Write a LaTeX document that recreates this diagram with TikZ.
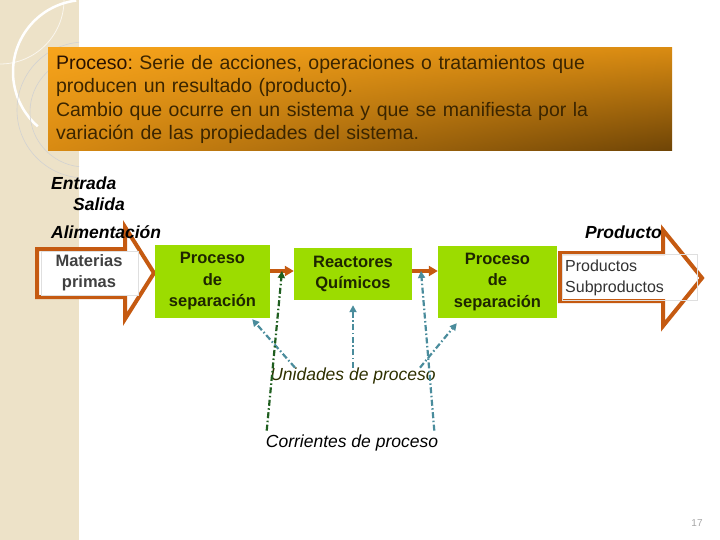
\documentclass[tikz,border=0pt]{standalone}
\usepackage{fontspec}
\setmainfont{Liberation Sans}
\usetikzlibrary{arrows.meta,shadings}
\definecolor{stripbg}{HTML}{EDE2C8}
\definecolor{flowor}{HTML}{C55A11}
\definecolor{limebox}{HTML}{9CDC00}
\definecolor{boxtext}{HTML}{1E2600}
\definecolor{deftext}{HTML}{3B2500}
\definecolor{defdark}{HTML}{2A1200}
\definecolor{unitcol}{HTML}{4A8C9C}
\definecolor{streamcol}{HTML}{1F5E1F}
\definecolor{olivetxt}{HTML}{2E3000}
\definecolor{defUL}{HTML}{F7A41B}
\definecolor{defUR}{HTML}{D98B12}
\definecolor{defLL}{HTML}{D88A12}
\definecolor{defLR}{HTML}{6E4406}

\begin{document}
\begin{tikzpicture}[x=1pt,y=-1pt,
  stepbox/.style={fill=limebox,align=center,inner sep=0pt,text=boxtext,font=\fontsize{16.5}{21.5}\selectfont\bfseries},
  flow/.style={draw=flowor,line width=4pt,-{Triangle[length=9pt,width=10pt]}},
  bigarrow/.style={draw=flowor,line width=4pt,fill=white,line join=miter},
  tag/.style={inner sep=0pt,font=\fontsize{17.5}{21}\selectfont\bfseries\itshape},
  link/.style={line width=2.2pt,dash pattern=on 6pt off 2.5pt on 1.5pt off 2.5pt,-{Triangle[length=7pt,width=7pt]}}]
\useasboundingbox (0,0) rectangle (720,540);
% left strip
\fill[stripbg] (0,0) rectangle (79,540);
\begin{scope}
\clip (0,0) rectangle (79,540);
\draw[white!70!stripbg,line width=.8pt] (0,0) circle (64);
\draw[white,line width=2.5pt] (85,72) ++(131:72) arc[start angle=131,end angle=263,radius=72];
\draw[gray!35,line width=.6pt] (85,110) circle (68);
\draw[gray!35,line width=.6pt] (85,112) circle (55);
\end{scope}
% definition box
\node[upper left=defUL,upper right=defUR,lower left=defLL,lower right=defLR,
  minimum width=624pt,minimum height=103pt,text width=608pt,inner xsep=8pt,align=left,
  text=deftext,font=\fontsize{19.5}{23.3}\selectfont\frenchspacing] (def) at (360,99.5)
  {\textcolor{defdark}{Proceso:} Serie de acciones, operaciones o tratamientos que\\
   producen un resultado (producto).\\
   Cambio que ocurre en un sistema y que se manifiesta por la\\
   variación de las propiedades del sistema.};
% input and output arrows
\draw[bigarrow] (37,249) -- (125,249) -- (125,227) -- (154,273) -- (125,319) -- (125,297) -- (37,297) -- cycle;
\draw[gray!25,line width=.5pt] (41,251) rectangle (138,295);
\draw[bigarrow] (560,253) -- (663,253) -- (663,230) -- (702,278) -- (663,326) -- (663,301) -- (560,301) -- cycle;
\draw[gray!25,line width=.5pt] (562,254) rectangle (697,300);
\node[align=center,inner sep=0pt,text=black!75,font=\fontsize{16.5}{21}\selectfont\bfseries] (feed) at (89,273) {Materias\\primas};
\node[align=left,anchor=west,inner sep=0pt,text=black!80,font=\fontsize{16}{21}\selectfont] (prod) at (565,278) {Productos\\Subproductos};
% process units
\node[stepbox,minimum width=115pt,minimum height=73pt] (sep1) at (212.5,281.5) {Proceso\\de\\separación};
\node[stepbox,minimum width=118pt,minimum height=52pt] (reac) at (353,274) {Reactores\\Químicos};
\node[stepbox,minimum width=119pt,minimum height=72pt] (sep2) at (497.5,282) {Proceso\\de\\separación};
\draw[flow] (sep1.east |- 0,271) -- (reac.west |- 0,271);
\draw[flow] (reac.east |- 0,271) -- (sep2.west |- 0,271);
\coordinate (j1) at (282,271);
\coordinate (j2) at (421,271);
% labels
\node[tag,anchor=west] (entr) at (51,183) {Entrada};
\node[tag,anchor=west] (sal) at (73,204) {Salida};
\node[tag,anchor=west] (alim) at (51,232) {Alimentación};
\node[tag,anchor=east] (prodl) at (662,232) {Producto};
\node[inner sep=0pt,text=olivetxt,font=\fontsize{17.5}{21}\selectfont\itshape] (unid) at (353,376) {Unidades de proceso};
\node[inner sep=0pt,font=\fontsize{17.5}{21}\selectfont\itshape] (corr) at (352,443) {Corrientes de proceso};
% pointers
\draw[link,unitcol] ([xshift=-58pt]unid.north) -- ([xshift=-18pt,yshift=-1pt]sep1.south east);
\draw[link,unitcol] (unid.north) -- ([yshift=-5pt]reac.south);
\draw[link,unitcol] ([xshift=67pt]unid.north) -- ([xshift=19pt,yshift=-5pt]sep2.south west);
\draw[link,streamcol] ([xshift=1pt,yshift=4pt]corr.north west) -- (j1);
\draw[link,unitcol] ([xshift=-4pt,yshift=4pt]corr.north east) -- (j2);
\node[text=gray!70,font=\fontsize{10}{12}\selectfont] (page) at (697,523) {17};
\end{tikzpicture}
\end{document}
